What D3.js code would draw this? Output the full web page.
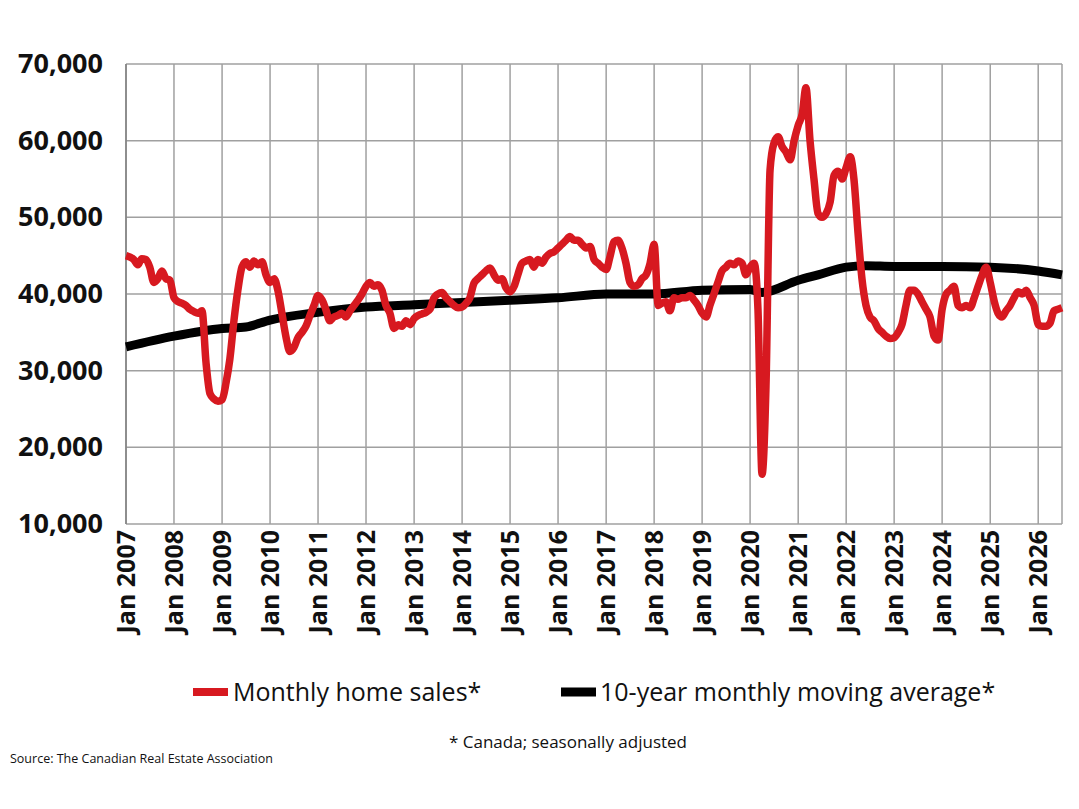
<!DOCTYPE html>
<html><head><meta charset="utf-8">
<script src="https://cdn.jsdelivr.net/npm/d3@7"></script>
<style>body{margin:0;background:#fff;font-family:"Open Sans",sans-serif}</style>
</head><body><svg></svg>
<script>
// monthly home sales, Jan 2007 onward
var sales = [
45000,44800,44500,43800,44600,44500,43500,41500,42000,43000,42000,41800,
39500,39000,38800,38500,38000,37700,37500,37800,31000,27000,26300,26000,
26200,28500,31500,36500,40500,43500,44200,43500,44300,43800,44200,42500,
41500,42000,40500,37500,34500,32500,33000,34300,35000,35800,37200,38500,
39800,39200,38000,36500,37000,37200,37500,37000,37800,38500,39200,40000,
41000,41500,41000,41200,40500,38500,37500,35500,36000,35800,36500,36000,
36800,37200,37400,37600,38000,39500,40000,40200,39500,39000,38500,38200,
38300,38800,39500,41400,42000,42500,43000,43400,42500,41800,42000,40800,
40300,41000,42500,44000,44300,44500,43500,44500,44000,44800,45300,45500,
46000,46500,47000,47500,47000,47000,46500,46000,46200,44500,44000,43500,
43200,45000,46800,47000,46000,44000,41500,41000,41200,42000,42500,44000,
46500,38500,38800,39000,37800,39500,39300,39500,39500,39800,39200,38500,
37500,37000,38500,40000,41500,43000,43500,44000,43800,44300,44000,42500,
43500,44000,38000,16500,28000,56200,59700,60500,59200,58500,57500,60000,
62000,63500,66900,60000,55000,50500,50000,50500,52000,55500,56000,55000,
56500,57900,55000,48000,42000,38500,37000,36500,35500,35000,34500,34200,
34300,35000,36000,38500,40500,40500,40000,39000,38000,37000,34500,34000,
38000,40000,40500,41000,38500,38200,38500,38200,39500,41000,42500,43500,
41500,39000,37500,37000,37800,38500,39500,40300,40000,40500,39500,38500,
36000,35800,35800,36200,37800,38000,38200
];
// 10-year moving average, sampled dates
var avgDates = ["2007-01","2008-01","2009-01","2009-07","2010-01","2011-01","2012-01","2013-01","2014-01","2015-01","2016-01","2017-01","2018-01","2019-01","2020-01","2020-04","2021-01","2021-06","2022-01","2022-06","2023-01","2024-01","2025-01","2026-01","2026-07"];
var avgValues = [33100,34500,35500,35700,36600,37600,38300,38600,38900,39200,39500,40000,40000,40500,40600,40200,41800,42500,43500,43700,43600,43600,43500,43000,42500];
var yTicks = [10000,20000,30000,40000,50000,60000,70000];
var xYears = d3.range(2007,2027);

var width=1079, height=809;
var svg=d3.select("svg").attr("width",width).attr("height",height);
var parse=d3.timeParse("%Y-%m");

var x=d3.scaleTime().domain([new Date(2007,0,1),new Date(2026,6,1)]).range([126,1062]);
var y=d3.scaleLinear().domain([10000,70000]).range([524,64]);

var salesData=sales.map(function(v,i){return {d:new Date(2007,i,1),v:v};});
var avgData=avgDates.map(function(s,i){return {d:parse(s),v:avgValues[i]};});

// grid
svg.append("g").selectAll("line.h").data(yTicks).enter().append("line")
 .attr("x1",126).attr("x2",1062).attr("y1",function(d){return y(d);}).attr("y2",function(d){return y(d);})
 .attr("stroke","#a0a0a0").attr("stroke-width",1.5);
svg.append("g").selectAll("line.v").data(xYears).enter().append("line")
 .attr("x1",function(d){return x(new Date(d,0,1));}).attr("x2",function(d){return x(new Date(d,0,1));})
 .attr("y1",64).attr("y2",524).attr("stroke","#a0a0a0").attr("stroke-width",1.5);
svg.append("line").attr("x1",1062).attr("x2",1062).attr("y1",64).attr("y2",524).attr("stroke","#a0a0a0").attr("stroke-width",1.5);
svg.append("line").attr("x1",126).attr("x2",126).attr("y1",64).attr("y2",524).attr("stroke","#808080").attr("stroke-width",1.5);

// y labels
svg.selectAll("text.y").data(yTicks).enter().append("text")
 .attr("x",103).attr("y",function(d){return y(d)+9;}).attr("text-anchor","end")
 .attr("font-size",27).attr("font-weight","bold").attr("fill","#111")
 .text(d3.format(","));

// x labels
svg.selectAll("text.x").data(xYears).enter().append("text")
 .attr("text-anchor","end").attr("font-size",25).attr("font-weight","bold").attr("fill","#111")
 .attr("transform",function(d){return "translate("+(x(new Date(d,0,1))+9)+",530) rotate(-90)";})
 .text(function(d){return "Jan "+d;});

var line=d3.line().x(function(d){return x(d.d);}).y(function(d){return y(d.v);}).curve(d3.curveMonotoneX);
svg.append("path").datum(avgData).attr("d",line).attr("fill","none").attr("stroke","#000").attr("stroke-width",9);
svg.append("path").datum(salesData).attr("d",line).attr("fill","none").attr("stroke","#d71920").attr("stroke-width",7.5).attr("stroke-linejoin","round");

// legend
svg.append("line").attr("x1",193).attr("x2",228).attr("y1",692).attr("y2",692).attr("stroke","#d71920").attr("stroke-width",8);
svg.append("text").attr("x",233).attr("y",701).attr("font-size",25).attr("fill","#111").text("Monthly home sales*");
svg.append("line").attr("x1",561).attr("x2",596).attr("y1",692).attr("y2",692).attr("stroke","#000").attr("stroke-width",9);
svg.append("text").attr("x",600).attr("y",701).attr("font-size",25).attr("fill","#111").text("10-year monthly moving average*");

svg.append("text").attr("x",568).attr("y",748).attr("text-anchor","middle").attr("font-size",17).attr("fill","#111").text("* Canada; seasonally adjusted");
svg.append("text").attr("x",10).attr("y",763).attr("font-size",12.5).attr("fill","#111").text("Source: The Canadian Real Estate Association");
</script></body></html>
